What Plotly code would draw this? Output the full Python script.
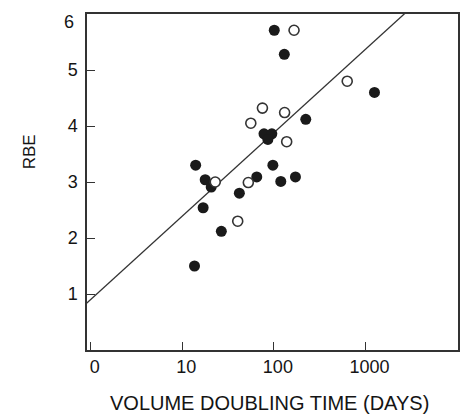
import numpy as np
import plotly.graph_objects as go

# values
filled_days = [101, 130, 1254, 223, 78, 95, 86, 97.5, 119, 172, 65, 42, 26.7, 14, 17.8, 20.7, 16.9, 13.6]
filled_rbe = [5.71, 5.28, 4.60, 4.12, 3.86, 3.86, 3.76, 3.30, 3.01, 3.09, 3.09, 2.80, 2.12, 3.30, 3.04, 2.91, 2.54, 1.50]
open_days = [166, 632, 75, 131, 56, 138, 52.6, 22.9, 40.3]
open_rbe = [5.71, 4.80, 4.32, 4.24, 4.05, 3.72, 2.99, 3.00, 2.30]

# regression line  RBE = a + b*log10(days)
fit_a = 0.9
fit_b = 1.49
fit_days = np.array([0.9, 10000])
fit_rbe = fit_a + fit_b * np.log10(fit_days)

x_tickvals = [1, 10, 100, 1000]
x_ticktext = ["0", "10", "100", "1000"]
y_tickvals = [1, 2, 3, 4, 5]
y_top = 6  # top label sits just under the frame in the original

ink = "#141414"
font_family = "Liberation Sans, Arial, sans-serif"

fig = go.Figure()
fig.add_trace(go.Scatter(
    x=fit_days, y=fit_rbe, mode="lines",
    line=dict(color="#333333", width=1.3),
))
fig.add_trace(go.Scatter(
    x=filled_days, y=filled_rbe, mode="markers",
    marker=dict(size=11, color="#1a1a1a", line=dict(width=0)),
))
fig.add_trace(go.Scatter(
    x=open_days, y=open_rbe, mode="markers",
    marker=dict(size=10, color="white", line=dict(width=1.6, color="#333333")),
))

# page body has an 8px margin, so the figure is a bit smaller than the window
fig.update_layout(
    width=467, height=406,
    margin=dict(l=79, r=17, t=6, b=64),
    paper_bgcolor="white",
    plot_bgcolor="white",
    showlegend=False,
    font=dict(family=font_family, color=ink, size=17),
    xaxis=dict(
        type="log",
        range=[-0.04, 4.01],
        automargin=False,
        tickmode="array",
        tickvals=x_tickvals,
        ticktext=x_ticktext,
        ticks="inside", ticklen=8, tickwidth=1.2, tickcolor="#333333",
        ticklabelshift=4,
        showgrid=False, zeroline=False,
        showline=True, linecolor="#333333", linewidth=1.5, mirror=True,
        tickfont=dict(size=18),
    ),
    yaxis=dict(
        range=[0, 6],
        automargin=False,
        tickmode="array",
        tickvals=y_tickvals,
        ticks="inside", ticklen=8, tickwidth=1.2, tickcolor="#333333",
        ticklabelstandoff=4,
        showgrid=False, zeroline=False,
        showline=True, linecolor="#333333", linewidth=1.5, mirror=True,
        tickfont=dict(size=18),
    ),
    annotations=[
        dict(text=str(y_top), xref="paper", yref="y", x=0, y=y_top,
             xanchor="right", yanchor="middle", xshift=-11, yshift=-8,
             showarrow=False, font=dict(size=18, color=ink)),
        dict(text="VOLUME DOUBLING TIME (DAYS)", xref="paper", yref="paper",
             x=0.492, y=-0.158, xanchor="center", yanchor="middle",
             showarrow=False, font=dict(size=20, color=ink)),
        dict(text="RBE", xref="paper", yref="paper",
             x=-0.155, y=0.59, xanchor="center", yanchor="middle",
             textangle=-90, showarrow=False, font=dict(size=17, color=ink)),
    ],
)

fig.write_html("out.html")
